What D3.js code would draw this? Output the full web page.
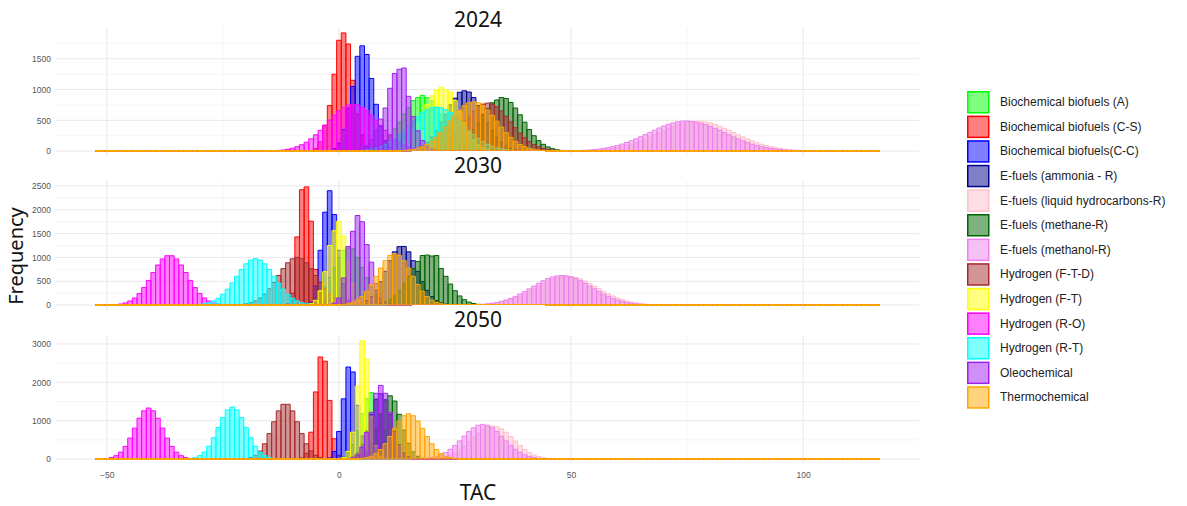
<!DOCTYPE html>
<html>
<head>
<meta charset="utf-8">
<script src="https://cdn.jsdelivr.net/npm/d3@7"></script>
<style>
  body { margin: 0; background: #fff; }
  svg { display: block; }
</style>
</head>
<body>
<div id="chart"></div>
<script>
// series (legend / draw order)
const series = [
  "Biochemical biofuels (A)",
  "Biochemical biofuels (C-S)",
  "Biochemical biofuels(C-C)",
  "E-fuels (ammonia - R)",
  "E-fuels (liquid hydrocarbons-R)",
  "E-fuels (methane-R)",
  "E-fuels (methanol-R)",
  "Hydrogen (F-T-D)",
  "Hydrogen (F-T)",
  "Hydrogen (R-O)",
  "Hydrogen (R-T)",
  "Oleochemical",
  "Thermochemical"
];
const seriesColors = ["#00ff00", "#ff0000", "#0000ff", "#00008b", "#ffc0cb", "#006400",
  "#ee82ee", "#a52a2a", "#ffff00", "#ff00ff", "#00ffff", "#a020f0", "#ffa500"];

const years = ["2024", "2030", "2050"];

// histogram bins: width 1, centres from binLo to binHi
const binLo = -52, binHi = 116;

const xTicks = [-50, 0, 50, 100];
const yTicks2024 = [0, 500, 1000, 1500];
const yTicks2030 = [0, 500, 1000, 1500, 2000, 2500];
const yTicks2050 = [0, 1000, 2000, 3000];

// first bin centre of each series, then its counts
const start2024 = [5, -6, -2, 15, 52, 22, 50, 17, 11, -13, 5, 4, 14];
const counts2024 = [
  [12,20,43,70,108,176,250,360,468,601,705,820,870,905,868,818,707,590,478,350,258,168,114,66,41,21,10],
  [10,40,150,420,740,1250,1800,1920,1740,1150,600,260,90,25,8],
  [10,40,130,350,700,1050,1540,1710,1570,1180,760,400,170,60,20,5],
  [13,27,48,90,142,230,330,468,600,750,860,955,980,960,870,740,600,460,338,224,148,86,51,25,14],
  [5,7,9,13,18,24,33,43,56,72,90,112,136,165,195,228,263,299,334,367,398,426,449,466,477,480,483,470,455,432,404,371,338,302,266,230,197,166,137,112,90,72,56,43,33,24,18,13,9,7,5],
  [11,21,38,66,107,166,245,344,456,575,689,785,830,870,855,790,700,590,470,350,250,170,110,68,39,21,11],
  [5,7,9,13,18,25,33,44,57,73,92,114,139,168,199,233,268,305,341,375,407,435,458,476,487,490,482,470,450,428,400,368,336,300,264,230,196,166,137,112,90,72,56,43,33,25,18,13,9,7,5],
  [9,16,27,44,69,105,154,217,293,380,473,566,651,720,764,780,764,720,651,566,473,380,293,217,154,105,69,44,27,16,9],
  [15,32,62,112,188,297,434,592,754,897,990,1030,1000,960,820,640,460,300,180,100,50,22,10],
  [11,18,30,46,71,103,145,199,264,338,420,503,584,655,711,748,760,748,711,655,584,503,420,338,264,199,145,103,71,46,30,18,11],
  [14,22,35,53,78,111,154,205,267,336,411,487,559,623,672,704,715,704,672,623,559,487,411,336,267,205,154,111,78,53,35,22,14],
  [15,40,90,190,340,520,700,1020,1260,1330,1350,890,560,330,170,80,35,12,5],
  [9,16,27,45,71,108,158,222,300,390,486,581,668,738,784,800,784,738,668,581,486,390,300,222,158,108,71,45,27,16,9]
];

const start2030 = [-8, -12, -7, 4, 30, 8, 29, -21, -6, -48, -30, -1, 1];
const counts2030 = [
  [12,29,64,126,229,380,576,793,998,1146,1200,1180,998,793,576,380,229,126,64,29,12],
  [10,30,250,1430,2420,2480,1760,750,250,60,15],
  [10,60,400,1150,1950,2400,1900,1150,450,100,20],
  [20,45,94,179,309,490,707,931,1118,1226,1230,1118,931,707,490,309,179,94,45,20],
  [10,14,22,32,46,63,86,115,149,190,237,288,342,397,450,499,541,573,593,600,595,580,550,505,455,400,345,290,240,190,149,115,86,63,46,32,22,14,10],
  [16,33,63,114,192,302,442,604,769,915,1040,1050,1030,1040,769,604,442,302,192,114,63,33,16],
  [7,12,18,27,40,56,79,107,141,183,231,284,341,399,457,510,556,590,613,620,613,590,556,510,457,399,341,284,231,183,141,107,79,56,40,27,18,12,7],
  [14,27,51,90,149,233,343,475,621,765,888,971,1000,971,888,765,621,475,343,233,149,90,51,27,14],
  [30,100,300,700,1250,1560,1760,1450,900,450,150,40,10],
  [10,23,46,86,149,242,367,518,683,841,967,1036,1036,967,841,683,518,367,242,149,86,46,23,10],
  [14,26,50,88,145,227,334,463,605,746,866,947,975,947,866,746,605,463,334,227,145,88,50,26,14],
  [40,150,570,1230,1550,1880,1750,1270,900,450,150,40],
  [13,28,56,105,180,289,433,602,778,933,1041,1080,1041,933,778,602,433,289,180,105,56,28,13]
];

const start2050 = [0, -8, -2, 2, 20, 4, 18, -20, 1, -50, -32, 3, 5];
const counts2050 = [
  [17,57,163,382,739,1185,1574,1730,1574,1185,739,382,163,57,17],
  [30,150,700,1750,2660,2550,1530,530,100,20],
  [30,200,720,1570,2400,2270,1400,600,150,30],
  [17,56,160,376,726,1165,1547,1700,1547,1165,726,376,160,56,17],
  [11,21,38,65,106,164,243,340,451,568,681,776,839,860,845,790,700,590,470,350,250,168,108,66,38,21,11],
  [23,73,188,411,756,1167,1513,1650,1513,1167,756,411,188,73,23],
  [12,22,40,69,111,173,255,357,474,598,717,816,882,905,882,816,717,598,474,357,255,173,111,69,40,22,12],
  [15,41,99,210,399,664,973,1256,1427,1427,1256,973,664,399,210,99,41,15],
  [40,200,700,1900,3080,2600,1100,350,70,15],
  [15,39,88,180,331,547,807,1065,1258,1330,1258,1065,807,547,331,180,88,39,15],
  [15,39,89,183,337,557,822,1085,1282,1355,1282,1085,822,557,337,183,89,39,15],
  [33,113,313,691,1219,1715,1920,1715,1219,691,313,113,33],
  [15,35,74,142,249,400,590,800,992,1130,1180,1130,992,800,590,400,249,142,74,35,15]
];

const facets = [
  { year: years[0], starts: start2024, counts: counts2024, ticks: yTicks2024 },
  { year: years[1], starts: start2030, counts: counts2030, ticks: yTicks2030 },
  { year: years[2], starts: start2050, counts: counts2050, ticks: yTicks2050 }
];

const width = 1187, height = 506;
const panelLeft = 56, panelRight = 919;
const panelTop = 27, panelH = 130, panelStep = 154;

const svg = d3.select("#chart").append("svg")
  .attr("width", width)
  .attr("height", height)
  .attr("viewBox", [0, 0, width, height]);

// x scale: bin range plus ggplot's 5% expansion
const span = (binHi + 0.5) - (binLo - 0.5);
const x = d3.scaleLinear()
  .domain([binLo - 0.5 - span * 0.05, binHi + 0.5 + span * 0.05])
  .range([panelLeft, panelRight]);

const binCentres = d3.range(binLo, binHi + 1);

facets.forEach((f, i) => {
  const top = panelTop + i * panelStep;
  const bottom = top + panelH;
  const ymax = d3.max(f.counts.flat());
  const y = d3.scaleLinear()
    .domain([-0.05 * ymax, 1.05 * ymax])
    .range([bottom, top]);
  const y0 = Math.round(y(0));

  const g = svg.append("g");

  // grid: minor then major
  const step = f.ticks[1] - f.ticks[0];
  const yMinor = f.ticks.map(t => t + step / 2).filter(v => v < y.domain()[1]);
  g.append("g").selectAll("line").data(yMinor).join("line")
    .attr("x1", panelLeft).attr("x2", panelRight)
    .attr("y1", d => y(d)).attr("y2", d => y(d))
    .attr("stroke", "#f1f1f1").attr("stroke-width", 0.7);
  g.append("g").selectAll("line").data([-25, 25, 75]).join("line")
    .attr("x1", d => x(d)).attr("x2", d => x(d))
    .attr("y1", top).attr("y2", bottom)
    .attr("stroke", "#f1f1f1").attr("stroke-width", 0.7);
  g.append("g").selectAll("line").data(f.ticks).join("line")
    .attr("x1", panelLeft).attr("x2", panelRight)
    .attr("y1", d => y(d)).attr("y2", d => y(d))
    .attr("stroke", "#e8e8e8").attr("stroke-width", 1);
  g.append("g").selectAll("line").data(xTicks).join("line")
    .attr("x1", d => x(d)).attr("x2", d => x(d))
    .attr("y1", top).attr("y2", bottom)
    .attr("stroke", "#e8e8e8").attr("stroke-width", 1);

  // histogram bars, every series over the full bin range (empty bins give the flat line)
  const seriesBins = series.map((name, s) => ({
    color: seriesColors[s],
    bins: binCentres.map(c => {
      const k = c - f.starts[s];
      const n = (k >= 0 && k < f.counts[s].length) ? f.counts[s][k] : 0;
      return { x0: c - 0.5, x1: c + 0.5, n: n };
    })
  }));

  g.append("g")
    .selectAll("g")
    .data(seriesBins)
    .join("g")
    .attr("fill", d => d.color)
    .attr("fill-opacity", 0.5)
    .attr("stroke", d => d.color)
    .selectAll("path")
    .data(d => d.bins)
    .join("path")
    .attr("stroke-width", b => b.n ? 1 : 2)
    .attr("d", b => b.n
      ? `M${x(b.x0)},${y0}V${y(b.n)}H${x(b.x1)}V${y0}Z`
      : `M${x(b.x0)},${y0}H${x(b.x1)}`);

  // y axis labels
  const yAxis = g.append("g")
    .attr("transform", `translate(${panelLeft},0)`)
    .call(d3.axisLeft(y).tickValues(f.ticks).tickFormat(d3.format("d")).tickSize(0).tickPadding(5));
  yAxis.select(".domain").remove();
  yAxis.selectAll("text")
    .style("font-family", "Liberation Sans, Arial, sans-serif")
    .style("font-size", "8.5px")
    .attr("fill", "#555");

  // x axis labels on the last panel only
  if (i === facets.length - 1) {
    const xAxis = g.append("g")
      .attr("transform", `translate(0,${bottom})`)
      .call(d3.axisBottom(x).tickValues(xTicks).tickSize(0).tickPadding(7));
    xAxis.select(".domain").remove();
    xAxis.selectAll("text")
      .style("font-family", "Liberation Sans, Arial, sans-serif")
      .style("font-size", "8.5px")
      .attr("fill", "#555");
  }

  // year title on a white box
  g.append("rect")
    .attr("x", 412).attr("y", top - 30)
    .attr("width", 133).attr("height", 30)
    .attr("fill", "#fff");
  g.append("text")
    .attr("x", 478).attr("y", top - 0.5 - (i === 0 ? 0 : 8))
    .attr("text-anchor", "middle")
    .style("font-family", "Noto Sans, sans-serif")
    .style("font-size", "21px")
    .attr("fill", "#111")
    .text(f.year);
});

// axis titles
svg.append("text")
  .attr("x", 478).attr("y", 500)
  .attr("text-anchor", "middle")
  .style("font-family", "Noto Sans, sans-serif")
  .style("font-size", "21px")
  .attr("fill", "#111")
  .text("TAC");

svg.append("text")
  .attr("transform", "translate(23,256) rotate(-90)")
  .attr("text-anchor", "middle")
  .style("font-family", "Noto Sans, sans-serif")
  .style("font-size", "20px")
  .attr("fill", "#111")
  .text("Frequency");

// legend
const legend = svg.append("g").attr("transform", "translate(967,91)");
const item = legend.selectAll("g")
  .data(series)
  .join("g")
  .attr("transform", (d, i) => `translate(0,${i * 24.6})`);
item.append("rect")
  .attr("x", 0.75).attr("y", 0.75)
  .attr("width", 21).attr("height", 21)
  .attr("fill", (d, i) => seriesColors[i])
  .attr("fill-opacity", 0.5)
  .attr("stroke", (d, i) => seriesColors[i])
  .attr("stroke-width", 1.5);
item.append("text")
  .attr("x", 33).attr("y", 11)
  .attr("dy", "0.35em")
  .style("font-family", "Liberation Sans, Arial, sans-serif")
  .style("font-size", "12px")
  .attr("fill", "#222")
  .text(d => d);
</script>
</body>
</html>
